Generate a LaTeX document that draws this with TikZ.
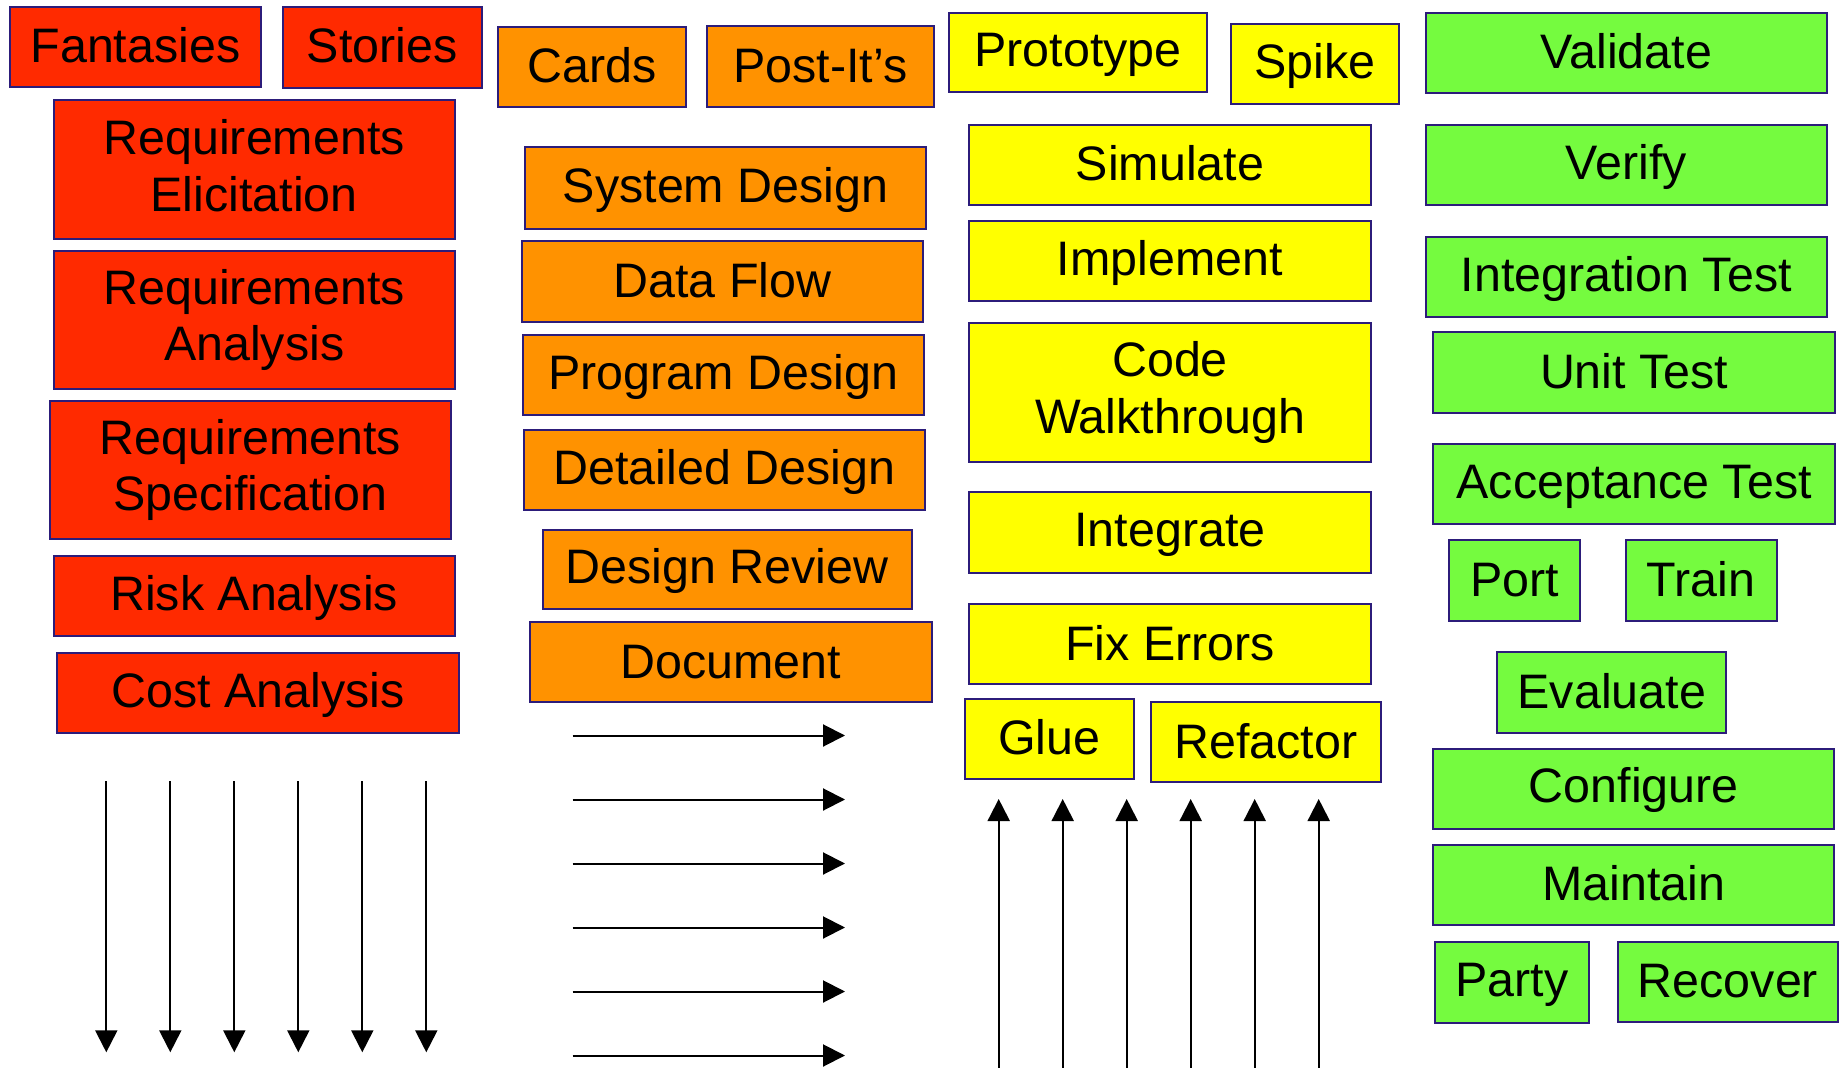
\documentclass[tikz,border=0pt]{standalone}
\usepackage{fontspec}
\setmainfont{Liberation Sans}
\usetikzlibrary{arrows.meta}
\definecolor{cred}{RGB}{255,42,0}
\definecolor{corange}{RGB}{255,146,0}
\definecolor{cyellow}{RGB}{255,255,0}
\definecolor{cgreen}{RGB}{117,251,63}
\definecolor{cborder}{RGB}{44,28,122}
\newcommand\mystrut{\rule[-0.15em]{0pt}{0.95em}}
\newcommand\bx[7]{\node[#1, minimum width={(#4-#2)*0.5pt}, minimum height={(#5-#3)*0.5pt}]
  (#6) at ({(#2+#4)/2},{(#3+#5)/2}) {#7};}
\tikzset{
  box/.style={draw=cborder, line width=1pt, inner sep=0pt, align=center,
    font=\fontsize{24.2}{28.35}\selectfont, execute at begin node=\mystrut},
  rbox/.style={box, fill=cred},
  obox/.style={box, fill=corange},
  ybox/.style={box, fill=cyellow},
  gbox/.style={box, fill=cgreen},
  arr/.style={line width=1pt, -{Triangle[length=11pt,width=11pt]}}
}
\begin{document}
\begin{tikzpicture}[x=0.5pt,y=-0.5pt]
\useasboundingbox (0,0) rectangle (1845,1068);
% red column
\bx{rbox}{9.6}{6.7}{261.4}{87.3}{fant}{Fantasies}
\bx{rbox}{283}{6.7}{481.5}{87.7}{stor}{Stories}
\bx{rbox}{53.6}{100}{454.7}{238.7}{relic}{Requirements\\\mystrut Elicitation}
\bx{rbox}{53.6}{250.7}{454.7}{389.3}{ranal}{Requirements\\\mystrut Analysis}
\bx{rbox}{49.8}{401.3}{450.8}{538.7}{rspec}{Requirements\\\mystrut Specification}
\bx{rbox}{53.6}{555.7}{454.7}{635.7}{risk}{Risk Analysis}
\bx{rbox}{57.4}{652.7}{458.5}{732.7}{cost}{Cost Analysis}
% orange column
\bx{obox}{498}{26.7}{685.6}{107.3}{cards}{Cards}
\bx{obox}{707}{26}{934}{106.7}{post}{Post-It’s}
\bx{obox}{525}{147.5}{926.2}{228.7}{sysd}{System Design}
\bx{obox}{521.6}{240.7}{923}{322}{dflow}{Data Flow}
\bx{obox}{522.8}{335.5}{924}{415}{progd}{Program Design}
\bx{obox}{523.7}{430}{925.3}{510.3}{detd}{Detailed Design}
\bx{obox}{542.7}{530}{911.7}{609.3}{desrev}{Design Review}
\bx{obox}{530}{622.3}{931.7}{702.3}{doc}{Document}
% yellow column
\bx{ybox}{949.2}{12.7}{1206.8}{92.3}{proto}{Prototype}
\bx{ybox}{1230.6}{24}{1399}{104.3}{spike}{Spike}
\bx{ybox}{969.4}{124.7}{1370.5}{204.7}{sim}{Simulate}
\bx{ybox}{969.4}{220.7}{1370.5}{300.7}{impl}{Implement}
\bx{ybox}{969.3}{322.7}{1370.7}{461.7}{walk}{Code\\\mystrut Walkthrough}
\bx{ybox}{969.3}{492.3}{1370.7}{572.7}{integ}{Integrate}
\bx{ybox}{969.3}{604.3}{1370.7}{684.3}{fix}{Fix Errors}
\bx{ybox}{964.7}{698.7}{1134}{778.7}{glue}{Glue}
\bx{ybox}{1151}{702.3}{1381}{782.3}{refac}{Refactor}
% green column
\bx{gbox}{1425.6}{12.7}{1827}{92.7}{valid}{Validate}
\bx{gbox}{1425.6}{124.7}{1827}{204.7}{verif}{Verify}
\bx{gbox}{1425.6}{236.7}{1827}{316.7}{itest}{Integration Test}
\bx{gbox}{1433.3}{332.5}{1835}{412.7}{utest}{Unit Test}
\bx{gbox}{1433.3}{444.3}{1835}{524.3}{atest}{Acceptance Test}
\bx{gbox}{1449.3}{540}{1580}{620.7}{port}{Port}
\bx{gbox}{1625.7}{540}{1776.7}{620.7}{train}{Train}
\bx{gbox}{1497.3}{652.3}{1726.3}{732.5}{eval}{Evaluate}
\bx{gbox}{1433.3}{748.5}{1834.4}{828.7}{conf}{Configure}
\bx{gbox}{1433.3}{844.7}{1834.4}{924.7}{maint}{Maintain}
\bx{gbox}{1434.8}{942}{1589.4}{1022.7}{party}{Party}
\bx{gbox}{1617.8}{942}{1838.2}{1022}{recov}{Recover}
% arrows
\foreach \k in {0,...,5}{
  \coordinate (ds\k) at (106.3+64*\k,781);
  \coordinate (de\k) at (106.3+64*\k,1052.3);
  \draw[arr] (ds\k) -- (de\k);
  \coordinate (rs\k) at (572.7,735.5+64*\k);
  \coordinate (re\k) at (845,735.5+64*\k);
  \draw[arr] (rs\k) -- (re\k);
  \coordinate (us\k) at (998.7+64*\k,1068);
  \coordinate (ue\k) at (998.7+64*\k,799);
  \draw[arr] (us\k) -- (ue\k);
}
\end{tikzpicture}
\end{document}
